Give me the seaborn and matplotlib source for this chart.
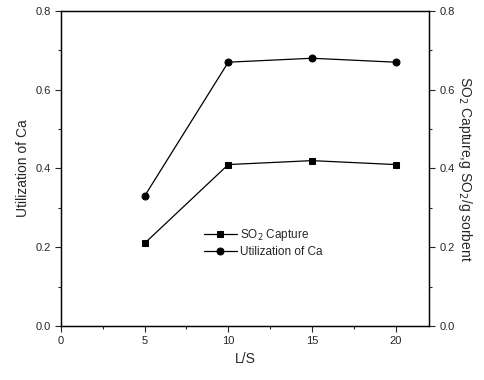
import matplotlib
matplotlib.use("Agg")
import matplotlib.pyplot as plt
import seaborn as sns
import pandas as pd
from matplotlib.ticker import MultipleLocator

sns.set_style("ticks")
plt.rcParams['font.family'] = ['Liberation Sans', 'DejaVu Sans']

ls = [5, 10, 15, 20]
so2_capture = [0.21, 0.41, 0.42, 0.41]
util_ca = [0.33, 0.67, 0.68, 0.67]

df = pd.DataFrame({
    "L/S": ls * 2,
    "value": so2_capture + util_ca,
    "series": ["SO$_2$ Capture"] * 4 + ["Utilization of Ca"] * 4,
})

fig = plt.figure(figsize=(4.85, 3.8), dpi=100)
ax = fig.add_axes([61/485, 1 - 326/380, (429-61)/485, (326-11)/380])

sns.lineplot(data=df, x="L/S", y="value", hue="series", style="series",
             markers={"SO$_2$ Capture": "s", "Utilization of Ca": "o"},
             dashes=False, palette=["black", "black"], linewidth=0.9,
             markersize=5, markeredgecolor="black", ax=ax)

ax.set_xlim(0, 22)
ax.set_ylim(0, 0.8)
ax.xaxis.set_major_locator(MultipleLocator(5))
ax.xaxis.set_minor_locator(MultipleLocator(2.5))
ax.yaxis.set_major_locator(MultipleLocator(0.2))
ax.yaxis.set_minor_locator(MultipleLocator(0.1))
ax.tick_params(which="both", direction="out", labelsize=8, width=0.8)
ax.tick_params(which="major", length=4)
ax.tick_params(which="minor", length=2.5)
ax.set_xlabel("L/S", fontsize=10)
ax.set_ylabel("Utilization of Ca", fontsize=10)
for s in ax.spines.values():
    s.set_linewidth(0.9)
    s.set_color("black")

ax2 = ax.twinx()
ax2.set_ylim(0, 0.8)
ax2.yaxis.set_major_locator(MultipleLocator(0.2))
ax2.yaxis.set_minor_locator(MultipleLocator(0.1))
ax2.tick_params(which="both", direction="out", labelsize=8, width=0.8)
ax2.tick_params(which="major", length=4)
ax2.tick_params(which="minor", length=2.5)
ax2.set_ylabel("SO$_2$ Capture,g SO$_2$/g sorbent", fontsize=10, rotation=270, labelpad=14)
for s in ax2.spines.values():
    s.set_linewidth(0.9)
    s.set_color("black")

leg = ax.legend(loc="center", bbox_to_anchor=(0.55, 0.265), frameon=False,
                fontsize=8.5, handlelength=2.8, handletextpad=0.3, labelspacing=0.25)

fig.savefig("out.png", dpi=100)
